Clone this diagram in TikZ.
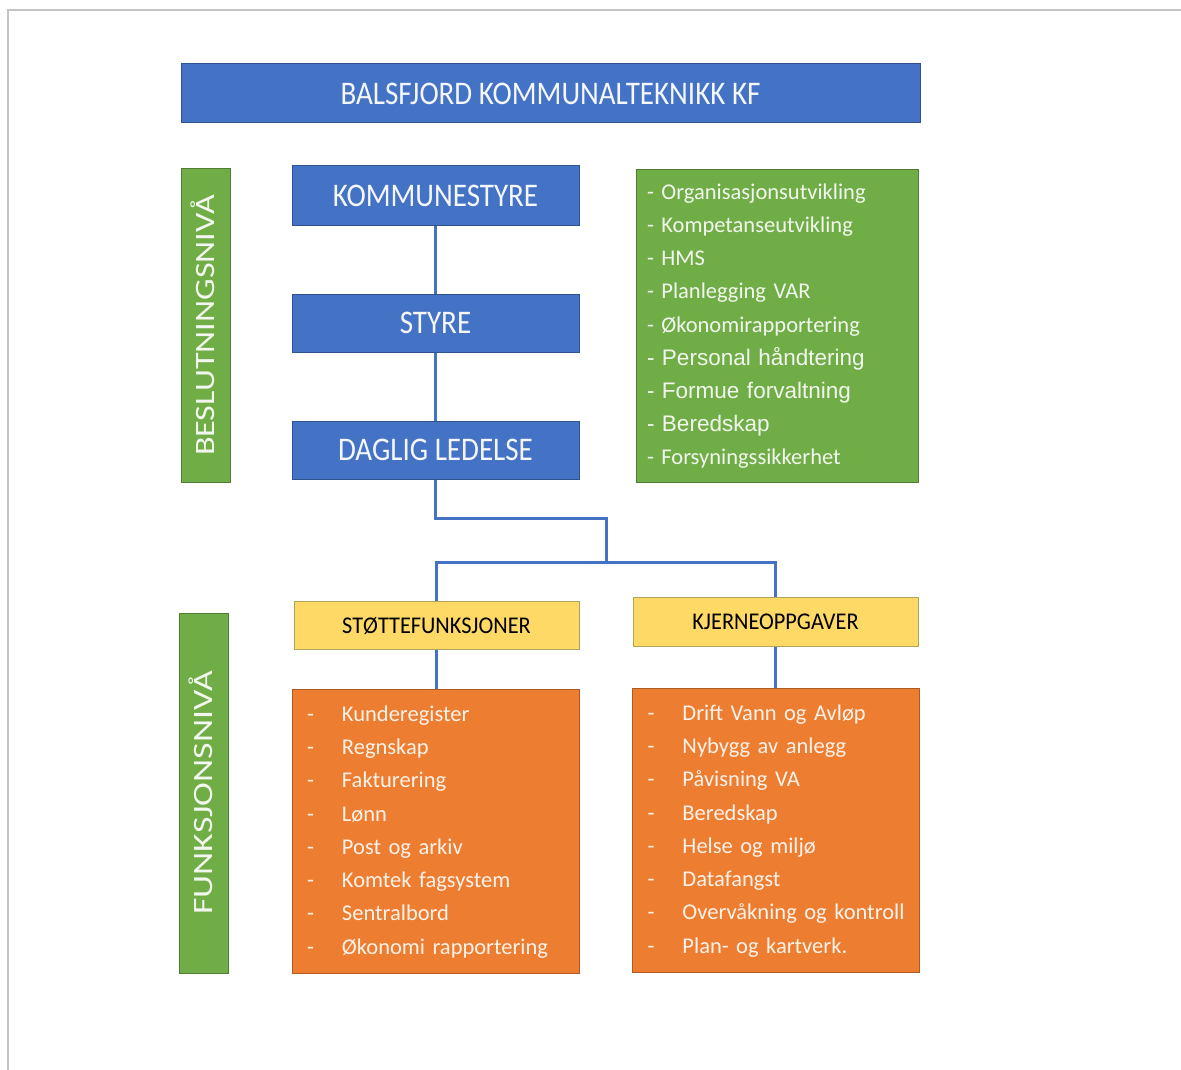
\documentclass[tikz,border=0pt]{standalone}
\usepackage{fontspec}
\setmainfont{Carlito}
\newfontfamily\arialfont{Liberation Sans}
\usepackage{graphicx}
\definecolor{blueF}{HTML}{4472C4}
\definecolor{blueD}{HTML}{2F528F}
\definecolor{greenF}{HTML}{70AD47}
\definecolor{greenD}{HTML}{507E32}
\definecolor{orangeF}{HTML}{ED7D31}
\definecolor{orangeD}{HTML}{AE5A21}
\definecolor{yellowF}{HTML}{FFD966}
\definecolor{yellowD}{HTML}{ADA35A}
\definecolor{frameC}{HTML}{C4C4C4}
\definecolor{lightT}{HTML}{F4F7FB}
\definecolor{greenT}{HTML}{F2F7EE}
\definecolor{orangeT}{HTML}{FFF3EA}
\begin{document}
\begin{tikzpicture}[x=1pt,y=-1pt,
  bluebox/.style={draw=blueD, line width=1pt, fill=blueF, text=lightT,
    minimum width=287pt, minimum height=58pt, inner sep=0pt,
    font=\fontsize{33}{40}\selectfont, text height=21.3pt, text depth=0pt},
  levelbar/.style={draw=greenD, line width=1pt, fill=greenF, text=greenT,
    rotate=90, minimum height=49pt, inner sep=0pt,
    font=\fontsize{28}{34}\selectfont, text height=18pt, text depth=0pt},
  listgreen/.style={draw=greenD, line width=0.6pt, fill=greenF, text=greenT,
    minimum width=282pt, minimum height=313pt, inner xsep=11pt, inner ysep=0pt,
    text width=260pt, align=left, font=\fontsize{22.5}{33.2}\selectfont},
  yellowbox/.style={draw=yellowD, line width=1pt, fill=yellowF, text=black,
    minimum width=285pt, minimum height=48.5pt, inner sep=0pt,
    font=\fontsize{24}{30}\selectfont, text height=15.5pt, text depth=0pt},
  orangebox/.style={draw=orangeD, line width=1pt, fill=orangeF, text=orangeT,
    minimum width=287pt, minimum height=284pt, inner xsep=15pt, inner ysep=0pt,
    text width=257pt, align=left, font=\fontsize{22.5}{33.3}\selectfont},
  conn/.style={draw=blueF, line width=3pt}
]
\useasboundingbox (0,0) rectangle (1181,1070);
\draw[frameC, line width=1.5pt] (8,1070) -- (8,10) -- (1181,10);

\node[bluebox, minimum width=739pt, minimum height=59pt] (title) at (550.5,93.5)
  {\scalebox{0.88}[1]{BALSFJORD KOMMUNALTEKNIKK KF}};

\node[levelbar, minimum width=313pt] (beslut) at (205.5,325.5)
  {\scalebox{1.22}[1]{BESLUTNINGSNIVÅ}};
\node[levelbar, minimum width=360pt] (funk) at (203.5,793)
  {\scalebox{1.28}[1]{FUNKSJONSNIVÅ}};

\node[bluebox, minimum height=59pt] (kstyre) at (435.5,195.5) {\scalebox{0.88}[1]{KOMMUNESTYRE}};
\node[bluebox] (styre) at (435.5,323) {\scalebox{0.88}[1]{STYRE}};
\node[bluebox] (daglig) at (435.5,450) {\scalebox{0.88}[1]{DAGLIG LEDELSE}};

\node[listgreen] (oppg) at (777,325.5) {%
\begin{tabular}{@{}l@{}}
- Organisasjonsutvikling\\
- Kompetanseutvikling\\
- HMS\\
- Planlegging VAR\\
- Økonomirapportering\\
{\arialfont - Personal håndtering}\\
{\arialfont - Formue forvaltning}\\
{\arialfont - Beredskap}\\
- Forsyningssikkerhet
\end{tabular}};

\node[yellowbox] (stotte) at (436.5,625.5) {\scalebox{0.93}[1]{STØTTEFUNKSJONER}};
\node[yellowbox] (kjerne) at (775.5,622) {\scalebox{0.93}[1]{KJERNEOPPGAVER}};

\node[orangebox] (stottelist) at (435.5,831) {%
\begin{tabular}{@{}p{35pt}@{}l@{}}
- & Kunderegister\\
- & Regnskap\\
- & Fakturering\\
- & Lønn\\
- & Post og arkiv\\
- & Komtek fagsystem\\
- & Sentralbord\\
- & Økonomi rapportering
\end{tabular}};

\node[orangebox] (kjernelist) at (776,830) {%
\begin{tabular}{@{}p{35pt}@{}l@{}}
- & Drift Vann og Avløp\\
- & Nybygg av anlegg\\
- & Påvisning VA\\
- & Beredskap\\
- & Helse og miljø\\
- & Datafangst\\
- & Overvåkning og kontroll\\
- & Plan- og kartverk.
\end{tabular}};

\coordinate (bend) at (606,518);
\coordinate (hub) at (606,562);

\draw[conn] (kstyre.south) -- (styre.north);
\draw[conn] (styre.south) -- (daglig.north);
\draw[conn] (daglig.south) |- (bend) -- (hub);
\draw[conn] (stotte.north) |- (hub) -| (kjerne.north);
\draw[conn] (stotte.south) -- (stottelist.north -| stotte.south);
\draw[conn] (kjerne.south) -- (kjernelist.north -| kjerne.south);
\end{tikzpicture}
\end{document}
